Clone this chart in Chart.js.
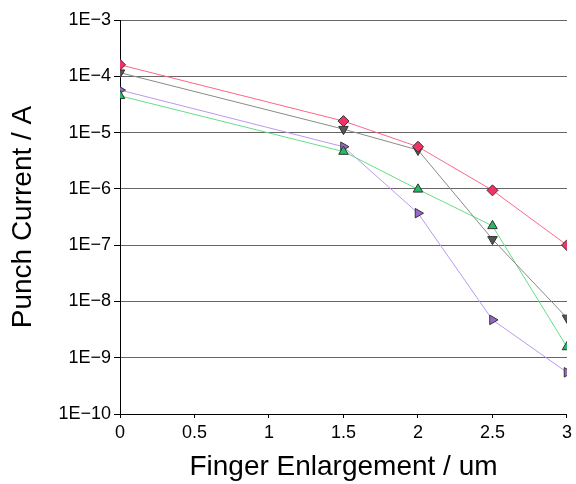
<!DOCTYPE html>
<html>
<head>
<meta charset="utf-8">
<script src="https://cdn.jsdelivr.net/npm/chart.js@4"></script>
<style>
  html, body { margin: 0; padding: 0; background: #fff; }
  #wrap { width: 576px; height: 484px; }
</style>
</head>
<body>
<div id="wrap"><canvas id="grafico" width="576" height="484"></canvas></div>
<script>
// Datos
const enlargement = [0, 1.5, 2, 2.5, 3];
const serieRoja   = [1.6e-4, 1.6e-5, 5.6e-6, 9.4e-7, 1.0e-7];
const serieGris   = [1.16e-4, 1.15e-5, 4.9e-6, 1.27e-7, 5.1e-9];
const serieVerde  = [4.5e-5, 4.6e-6, 9.8e-7, 2.2e-7, 1.55e-9];
const serieMorada = [5.7e-5, 5.6e-6, 3.7e-7, 4.7e-9, 5.5e-10];
const xTicks = [0, 0.5, 1, 1.5, 2, 2.5, 3];
const yDecades = [-10, -9, -8, -7, -6, -5, -4, -3];

function puntos(valores) {
    return enlargement.map((x, i) => ({ x: x, y: valores[i] }));
}

function serie(valores, linea, relleno, estilo, rot) {
    return {
        data: puntos(valores),
        borderColor: linea,
        borderWidth: 1,
        pointStyle: estilo,
        rotation: rot,
        pointRadius: 5.5,
        pointBackgroundColor: relleno,
        pointBorderColor: '#333',
        pointBorderWidth: 1,
        tension: 0
    };
}

const ctx = document.getElementById('grafico').getContext('2d');
new Chart(ctx, {
    type: 'line',
    data: {
        datasets: [
            serie(serieRoja, '#ff6688', '#ee3366', 'rectRot', 0),
            serie(serieGris, '#8a8a8a', '#555555', 'triangle', 180),
            serie(serieVerde, '#66dd88', '#22bb66', 'triangle', 0),
            serie(serieMorada, '#bb99ee', '#9966cc', 'triangle', 90)
        ]
    },
    options: {
        responsive: false,
        animation: false,
        layout: { padding: { top: 20, right: 6, left: 0, bottom: 0 } },
        plugins: { legend: { display: false }, tooltip: { enabled: false } },
        scales: {
            x: {
                type: 'linear',
                min: 0, max: 3,
                afterBuildTicks: function(scale) { scale.ticks = xTicks.map(v => ({ value: v })); },
                afterFit: function(scale) { scale.height = 70; },
                ticks: {
                    color: '#000',
                    font: { family: 'Liberation Sans', size: 18 },
                    padding: 4,
                    maxRotation: 0,
                    callback: v => String(v)
                },
                grid: { drawOnChartArea: false, drawTicks: true, tickLength: 4, tickColor: '#000' },
                border: { color: '#000', width: 1 },
                title: {
                    display: true,
                    text: 'Finger Enlargement / um',
                    color: '#000',
                    font: { family: 'Liberation Sans', size: 28 },
                    padding: { top: 0, bottom: 0 }
                }
            },
            y: {
                type: 'logarithmic',
                min: 1e-10, max: 1e-3,
                afterBuildTicks: function(scale) { scale.ticks = yDecades.map(d => ({ value: Math.pow(10, d) })); },
                afterFit: function(scale) { scale.width = 120; },
                ticks: {
                    color: '#000',
                    font: { family: 'Liberation Sans', size: 18 },
                    padding: 3,
                    callback: function(v) { return '1E\u2212' + Math.round(-Math.log10(v)); }
                },
                grid: { color: '#666', lineWidth: 1, drawTicks: true, tickLength: 6, tickColor: '#000' },
                border: { color: '#000', width: 1 },
                title: {
                    display: true,
                    text: 'Punch Current / A',
                    color: '#000',
                    font: { family: 'Liberation Sans', size: 28 },
                    padding: { top: 6, bottom: 0 }
                }
            }
        }
    }
});
</script>
</body>
</html>
